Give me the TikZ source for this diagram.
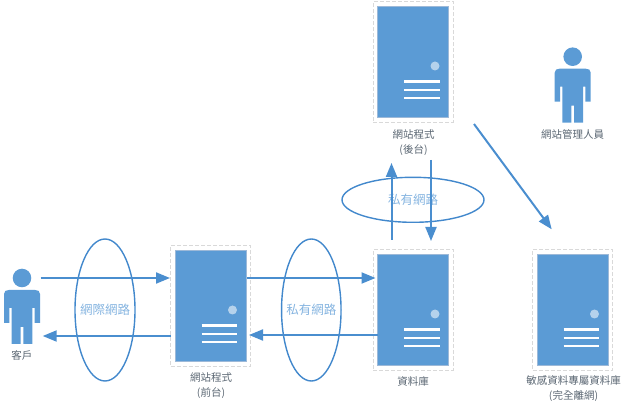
\documentclass[tikz,border=0pt]{standalone}
\usepackage{fontspec}
\setmainfont{Noto Sans CJK TC}
\usetikzlibrary{arrows.meta,shapes.geometric}
\definecolor{blueA}{HTML}{5B9BD5}
\definecolor{lineA}{HTML}{4A8ECF}
\definecolor{edgeA}{HTML}{9DB9D8}
\definecolor{ringA}{HTML}{4288CC}
\definecolor{softA}{HTML}{85B4E0}
\definecolor{labelA}{HTML}{5A6672}
\tikzset{
  outerbox/.style={draw=black!15,dash pattern=on 4pt off 2pt,line width=1pt,rectangle,minimum width=80pt,minimum height=120.5pt,inner sep=0pt},
  innerbox/.style={fill=blueA,draw=edgeA,line width=0.8pt},
  slot/.style={draw=white,line width=2.4pt},
  led/.style={fill=white!55!blueA,draw=none},
  personfill/.style={fill=blueA,draw=none},
  ringnode/.style={ellipse,draw=ringA,line width=1.4pt,inner sep=0pt,
    label={[text=softA,font=\fontsize{12.5}{14}\selectfont,inner sep=0pt]center:#1}},
  flow/.style={draw=lineA,line width=2pt,-{Triangle[length=14pt,width=11pt]}},
  captext/.style={text=labelA,font=\fontsize{10.5}{15}\selectfont,align=center,inner sep=0pt},
  ghost/.style={rectangle,minimum width=#1,minimum height=54pt,inner sep=0pt}
}
\newcommand{\srvbox}[3]{%
  \node[outerbox] (#1) at (#2,#3) {};
  \begin{scope}[shift={(#2,#3)}]
    \path[innerbox] (-35.5,-55.5) rectangle (35.5,55.5);
    \path[led] (22,4) circle (4.5);
    \draw[slot] (-9,19.5) -- (26.5,19.5);
    \draw[slot] (-9,27.8) -- (26.5,27.8);
    \draw[slot] (-9,36) -- (26.5,36);
  \end{scope}}
\newcommand{\manshape}[3]{%
  \node[ghost=37pt] (#1) at (#2,#3+39) {};
  \begin{scope}[shift={(#2,#3)}]
    \path[personfill] (0,0) circle (9.3);
    \path[personfill] (-18,16) .. controls (-18,13) and (-16,12) .. (-13,12) -- (13,12)
      .. controls (16,12) and (18,13) .. (18,16) -- (18,45) -- (12.7,45) -- (12.7,30) -- (10.3,30)
      -- (10.3,66) -- (1.4,66) -- (1.4,49) -- (-1.4,49) -- (-1.4,66) -- (-10.3,66) -- (-10.3,30)
      -- (-12.7,30) -- (-12.7,45) -- (-18,45) -- cycle;
  \end{scope}}
\begin{document}
\begin{tikzpicture}[x=1pt,y=-1pt]
  \useasboundingbox (0,0) rectangle (630,414);
  \srvbox{back}{413}{62}
  \srvbox{front}{210.5}{306}
  \srvbox{db}{413}{310}
  \srvbox{vault}{572.5}{310}
  \manshape{client}{22}{278}
  \manshape{admin}{572.7}{56.7}

  \node[ringnode=網際網路,minimum width=60pt,minimum height=142pt] (inet) at (105,310) {};
  \node[ringnode=私有網路,minimum width=59.5pt,minimum height=142pt] (lanA) at (311.3,310) {};
  \node[ringnode=私有網路,minimum width=142pt,minimum height=45pt] (lanB) at (413,199.8) {};

  \draw[flow] (client.east |- 0,278) -- (front.west |- 0,278);
  \draw[flow] ([xshift=1pt]front.west |- 0,336) -- ([xshift=2pt]client.east |- 0,336);
  \draw[flow] ([xshift=-4pt]front.east |- 0,278) -- ([xshift=3pt]db.west |- 0,278);
  \draw[flow] ([xshift=5pt]db.west |- 0,335) -- ([xshift=-2pt]front.east |- 0,335);
  \coordinate (dbUp) at (391.5,240);
  \coordinate (backUp) at (391.5,163);
  \coordinate (backDown) at (431,160);
  \coordinate (dbDown) at (431,241);
  \coordinate (diagA) at (474,124);
  \coordinate (diagB) at (551.7,229.3);
  \draw[flow] (dbUp) -- (backUp);
  \draw[flow] (backDown) -- (dbDown);
  \draw[flow] (diagA) -- (diagB);

  \node[captext] (capBack) at (413.5,143) {網站程式\\(後台)};
  \node[captext] (capAdmin) at (572.5,134) {網站管理人員};
  \node[captext] (capClient) at (22,355) {客戶};
  \node[captext] (capFront) at (211,386) {網站程式\\(前台)};
  \node[captext] (capDb) at (413,381) {資料庫};
  \node[captext] (capVault) at (573.5,388.5) {敏感資料專屬資料庫\\(完全離網)};
\end{tikzpicture}
\end{document}
